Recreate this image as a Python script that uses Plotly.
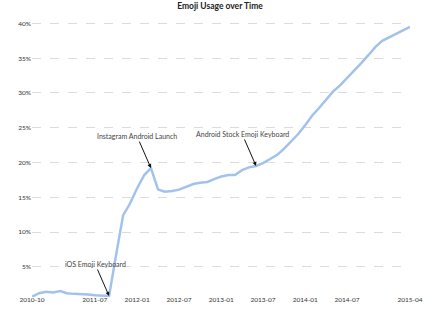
import plotly.graph_objects as go
import pandas as pd

months = pd.date_range("2010-10-01", "2015-04-01", freq="MS").strftime("%Y-%m-%d").tolist()
usage = [0.7, 1.2, 1.4, 1.3, 1.5, 1.2, 1.1, 1.1, 1.0, 0.9, 0.9, 0.8,
         6.6, 12.4, 14.1, 16.3, 18.2, 19.2,
         16.1, 15.8, 15.9, 16.1, 16.5, 16.9, 17.1, 17.2, 17.6, 18.0, 18.2, 18.2, 18.9, 19.3, 19.5, 19.9, 20.5,
         21.1, 22.0, 23.0, 24.1, 25.4, 26.8, 27.8, 29.0, 30.2, 31.1, 32.1, 33.2, 34.3, 35.4, 36.6, 37.5,
         38.0, 38.5, 38.9, 39.5]

x_tick_vals = ["2010-10-01", "2011-07-01", "2012-01-01", "2012-07-01", "2013-01-01",
               "2013-07-01", "2014-01-01", "2014-07-01", "2015-04-01"]
x_tick_text = ["2010-10", "2011-07", "2012-01", "2012-07", "2013-01",
               "2013-07", "2014-01", "2014-07", "2015-04"]
y_tick_vals = [5, 10, 15, 20, 25, 30, 35, 40]
y_tick_text = ["5%", "10%", "15%", "20%", "25%", "30%", "35%", "40%"]

events = ["iOS Emoji Keyboard", "Instagram Android Launch", "Android Stock Emoji Keyboard"]
event_dates = ["2011-09-01", "2012-03-01", "2013-06-01"]

FONT = "Lato"

fig = go.Figure()
fig.add_trace(go.Scatter(x=months, y=usage, mode="lines",
                         line=dict(color="#a3c2eb", width=2.5),
                         cliponaxis=False, hoverinfo="skip"))

for name, d in zip(events, event_dates):
    yv = usage[months.index(d)]
    fig.add_annotation(x=d, y=yv, text=name, showarrow=True,
                       ax=-14, ay=-32, arrowhead=2, arrowsize=0.8, arrowwidth=1,
                       arrowcolor="#111", standoff=0,
                       font=dict(family=FONT, size=7, color="#444"))

fig.update_layout(
    width=440, height=309,
    margin=dict(l=32, r=30, t=20, b=12),
    paper_bgcolor="white", plot_bgcolor="white",
    showlegend=False,
    title=dict(text="<b>Emoji Usage over Time</b>", x=0.5, xanchor="center",
               y=1 - 6.5 / 309, yanchor="middle",
               font=dict(family=FONT, size=8.5, color="#222")),
    xaxis=dict(type="date", range=["2010-10-01", "2015-04-01"],
               tickvals=x_tick_vals, ticktext=x_tick_text, automargin=False,
               showgrid=False, zeroline=False, showline=False, ticks="",
               ticklabelstandoff=-3,
               tickfont=dict(family=FONT, size=6.5, color="#333")),
    yaxis=dict(range=[0.65, 40.5], tickvals=y_tick_vals, ticktext=y_tick_text,
               automargin=False,
               showgrid=True, gridcolor="#dcdcdc", griddash="dash", gridwidth=1,
               zeroline=False, showline=False, ticks="",
               tickfont=dict(family=FONT, size=6.5, color="#333")),
)

fig.write_html("out.html")
